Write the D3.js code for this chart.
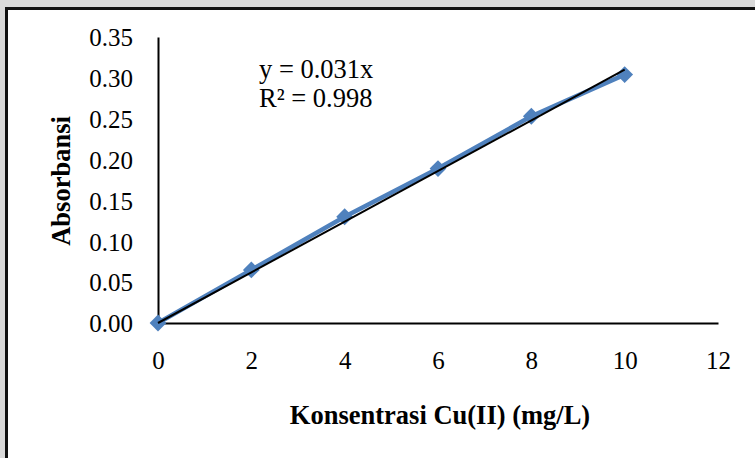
<!DOCTYPE html>
<html>
<head>
<meta charset="utf-8">
<script src="https://cdn.jsdelivr.net/npm/d3@7"></script>
<style>
  html, body { margin: 0; padding: 0; background: #d9d9d9; }
  svg { display: block; }
</style>
</head>
<body>
<svg id="chart" width="755" height="458"></svg>
<script>
// Calibration data: Cu(II) concentration vs absorbance
const concentrations = [0, 2, 4, 6, 8, 10];
const absorbances = [0, 0.065, 0.130, 0.189, 0.253, 0.304];
const xTicks = [0, 2, 4, 6, 8, 10, 12];
const yTicks = [0, 0.05, 0.10, 0.15, 0.20, 0.25, 0.30, 0.35];
const slope = 0.031;
const equationLines = ["y = 0.031x", "R² = 0.998"];

const svg = d3.select("#chart");
const serif = "'Liberation Serif', 'Times New Roman', serif";
const tickFont = 25;
const labelFont = 26.5;

// Chart frame
svg.append("rect")
  .attr("x", 6.5).attr("y", 8.5)
  .attr("width", 760).attr("height", 470)
  .attr("fill", "#fff")
  .attr("stroke", "#111").attr("stroke-width", 3);

const x = d3.scaleLinear().domain([0, 12]).range([158, 718]);
const y = d3.scaleLinear().domain([0, 0.35]).range([323, 37]);

// Axes
const xAxis = d3.axisBottom(x).tickValues(xTicks).tickSize(0).tickPadding(28)
  .tickFormat(d3.format("d"));
const yAxis = d3.axisLeft(y).tickValues(yTicks).tickSize(0).tickPadding(25)
  .tickFormat(d3.format(".2f"));

const gx = svg.append("g").attr("transform", `translate(0,${y(0)})`).call(xAxis);
const gy = svg.append("g").attr("transform", `translate(${x(0)},0)`).call(yAxis);
[gx, gy].forEach(g => {
  g.select(".domain").attr("stroke", "#000").attr("stroke-width", 2);
  g.selectAll("text").attr("font-family", serif).attr("font-size", tickFont).attr("fill", "#000");
});
gy.selectAll("text").attr("dy", "0.35em");

// Measured series
const line = d3.line().x((d, i) => x(concentrations[i])).y(d => y(d));
svg.append("path")
  .datum(absorbances)
  .attr("d", line)
  .attr("fill", "none")
  .attr("stroke", "#4f81bd")
  .attr("stroke-width", 4.5);

svg.append("g").selectAll("path")
  .data(absorbances)
  .join("path")
  .attr("d", d3.symbol(d3.symbolDiamond2, 180))
  .attr("transform", (d, i) => `translate(${x(concentrations[i])},${y(d)})`)
  .attr("fill", "#4f81bd");

// Linear trendline through origin
const xEnd = concentrations[concentrations.length - 1];
svg.append("line")
  .attr("x1", x(0)).attr("y1", y(0))
  .attr("x2", x(xEnd)).attr("y2", y(slope * xEnd))
  .attr("stroke", "#000").attr("stroke-width", 2);

// Trendline equation
svg.append("g").selectAll("text")
  .data(equationLines)
  .join("text")
  .attr("x", 259)
  .attr("y", (d, i) => 78 + i * 29)
  .attr("font-family", serif).attr("font-size", labelFont)
  .text(d => d);

// Axis titles
svg.append("text")
  .attr("x", 440).attr("y", 424)
  .attr("text-anchor", "middle")
  .attr("font-family", serif).attr("font-size", labelFont).attr("font-weight", "bold")
  .text("Konsentrasi Cu(II) (mg/L)");

svg.append("text")
  .attr("transform", "translate(70,181) rotate(-90)")
  .attr("text-anchor", "middle")
  .attr("font-family", serif).attr("font-size", labelFont).attr("font-weight", "bold")
  .text("Absorbansi");
</script>
</body>
</html>
